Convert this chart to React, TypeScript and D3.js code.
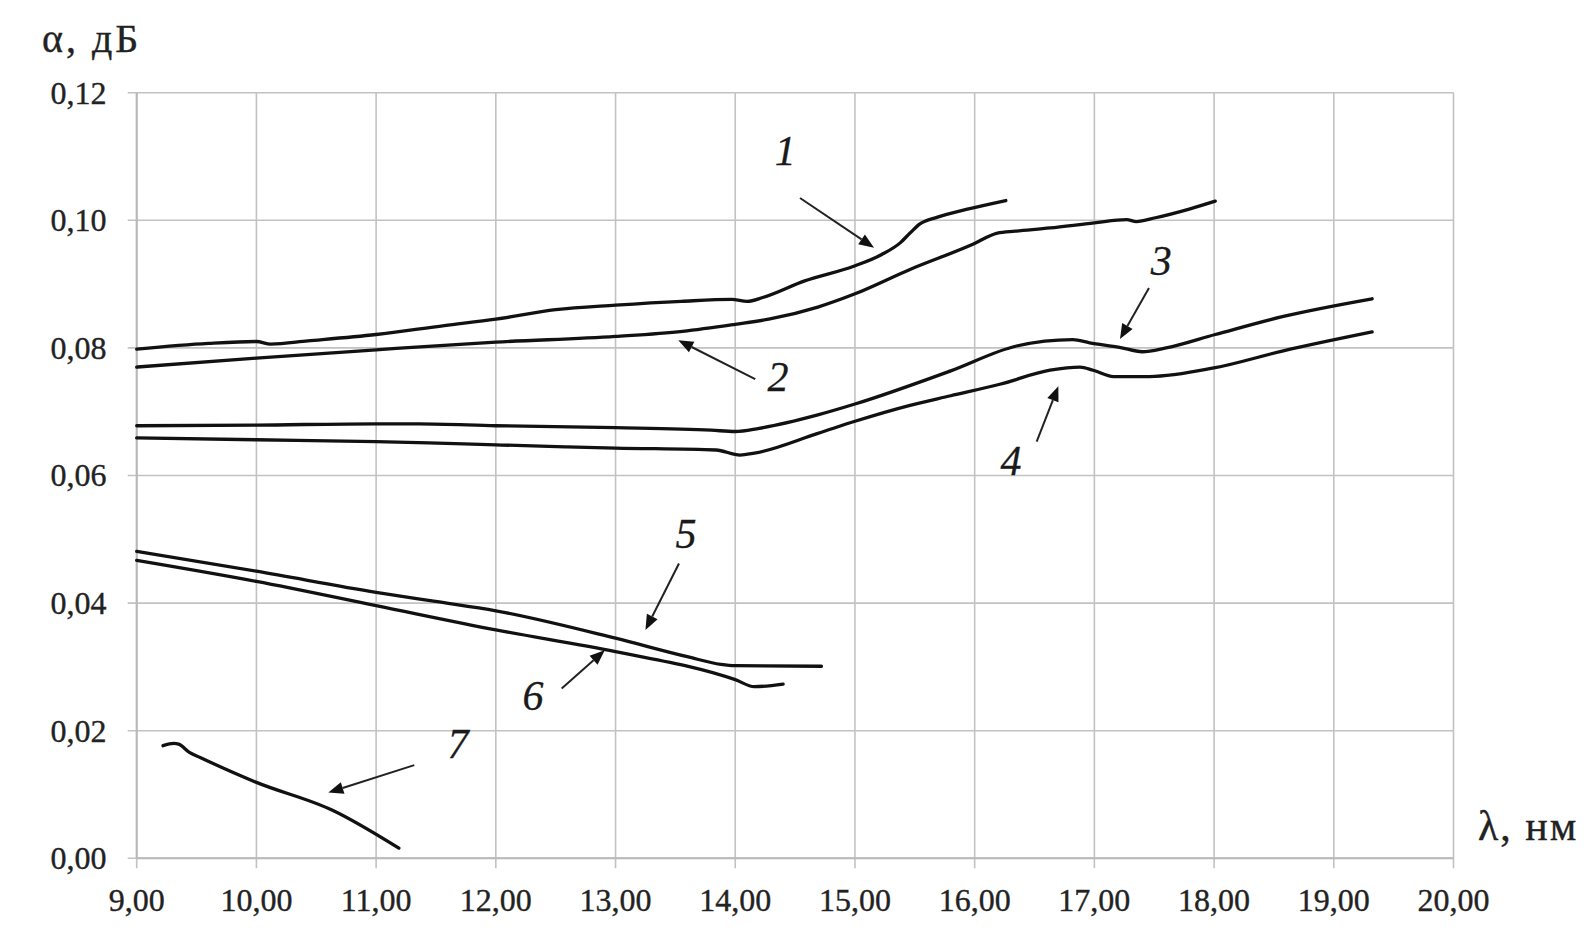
import React from "react";
import * as d3 from "d3";

type Pt = [number, number];

const xTicks = [9, 10, 11, 12, 13, 14, 15, 16, 17, 18, 19, 20];
const yTicks = [0, 0.02, 0.04, 0.06, 0.08, 0.1, 0.12];

const curve1: Pt[] = [[9.0,0.0798],[9.6,0.0807],[10.0,0.0810],[10.12,0.0806],[10.43,0.0811],[11.0,0.0821],[11.57,0.0835],[12.0,0.0845],[12.5,0.0860],[13.0,0.0867],[13.55,0.0873],[13.97,0.0876],[14.1,0.0873],[14.23,0.0879],[14.58,0.0905],[14.99,0.0928],[15.22,0.0946],[15.38,0.0965],[15.46,0.0980],[15.54,0.0994],[15.69,0.1005],[15.93,0.1017],[16.26,0.1031]];
const curve2: Pt[] = [[9.0,0.0770],[10.0,0.0784],[11.0,0.0797],[12.0,0.0809],[13.0,0.0818],[13.56,0.0826],[14.0,0.0837],[14.28,0.0845],[14.69,0.0864],[14.99,0.0884],[15.46,0.0923],[15.98,0.0962],[16.19,0.0980],[16.34,0.0983],[16.63,0.0988],[17.0,0.0996],[17.27,0.1001],[17.35,0.0998],[17.51,0.1004],[17.8,0.1018],[18.01,0.1030]];
const curve3: Pt[] = [[9,0.0678],[10,0.0679],[11,0.0681],[11.36,0.0681],[12,0.0678],[13,0.0675],[13.8,0.0671],[14.0,0.0669],[14.2,0.0674],[14.69,0.0695],[15.0,0.0712],[15.8,0.0764],[16.35,0.0803],[16.82,0.0813],[16.96,0.0808],[17.21,0.0801],[17.4,0.0794],[17.6,0.0800],[18.01,0.0821],[18.57,0.0849],[19.32,0.0877]];
const curve4: Pt[] = [[9,0.0659],[10,0.0656],[11,0.0653],[11.44,0.0651],[12,0.0648],[12.58,0.0645],[13,0.0643],[13.84,0.0640],[14.04,0.0632],[14.16,0.0635],[14.69,0.0666],[15.0,0.0685],[15.46,0.0710],[15.8,0.0725],[16.21,0.0743],[16.63,0.0765],[16.88,0.0770],[16.99,0.0765],[17.16,0.0755],[17.46,0.0755],[18.01,0.0769],[18.57,0.0795],[19.32,0.0825]];
const curve5: Pt[] = [[9.0,0.0481],[10,0.0450],[11,0.0417],[11.48,0.0403],[12,0.0388],[13,0.0345],[13.6,0.0316],[13.88,0.0304],[14.0,0.0302],[14.72,0.0301]];
const curve6: Pt[] = [[9,0.0467],[10,0.0434],[11,0.0396],[12,0.0358],[13,0.0324],[14,0.0280],[14.16,0.0269],[14.4,0.0273]];
const curve7: Pt[] = [[9.22,0.01765],[9.31,0.0180],[9.35,0.0179],[9.44,0.0166],[9.53,0.0158],[10,0.0119],[10.64,0.0075],[11.19,0.0016]];

const curves = [curve1, curve2, curve3, curve4, curve5, curve6, curve7];

// annotation labels: [text, lambda, alpha (baseline)]
const labels: [string, number, number][] = [
  ["1", 14.417, 0.1087],
  ["2", 14.357, 0.0732],
  ["3", 17.558, 0.0914],
  ["4", 16.304, 0.0601],
  ["5", 13.589, 0.0486],
  ["6", 12.311, 0.0233],
  ["7", 11.683, 0.0157],
];
// arrows: from [lambda, alpha] to tip [lambda, alpha]
const arrows: [Pt, Pt][] = [
  [[14.541, 0.1035], [15.159, 0.0957]],
  [[14.167, 0.0751], [13.524, 0.0812]],
  [[17.456, 0.0894], [17.214, 0.0814]],
  [[16.518, 0.0653], [16.699, 0.0740]],
  [[13.530, 0.0462], [13.250, 0.0358]],
  [[12.550, 0.0266], [12.910, 0.0326]],
  [[11.319, 0.0146], [10.601, 0.0103]],
];

const fmt = (v: number, d: number) => v.toFixed(d).replace(".", ",");

export default function App() {
  const W = 1596, H = 944;
  const x = d3.scaleLinear().domain([9, 20]).range([136.7, 1453.5]);
  const y = d3.scaleLinear().domain([0, 0.12]).range([858.3, 92.7]);
  const line = d3.line<Pt>().x(d => x(d[0])).y(d => y(d[1])).curve(d3.curveMonotoneX);
  const grid = "#c2c2c2";
  const font = "'Liberation Serif', 'Times New Roman', serif";
  const textCol = "#222";

  return (
    <svg width={W} height={H} style={{ position: "absolute", left: 0, top: 0, background: "#fff" }} fontFamily={font}>
      <rect width={W} height={H} fill="#fff" />
      {yTicks.map(t => (
        <g key={"y" + t}>
          <line x1={x(9) - 9} x2={x(20)} y1={y(t)} y2={y(t)} stroke={grid} strokeWidth={1.6} />
          <text x={106.5} y={y(t)} dy="0.34em" textAnchor="end" fontSize={32} fill={textCol} stroke={textCol} strokeWidth={0.35}>{fmt(t, 2)}</text>
        </g>
      ))}
      {xTicks.map(t => (
        <g key={"x" + t}>
          <line x1={x(t)} x2={x(t)} y1={y(0.12)} y2={y(0) + 10} stroke={grid} strokeWidth={1.6} />
          <text x={x(t)} y={911} textAnchor="middle" fontSize={32} fill={textCol} stroke={textCol} strokeWidth={0.35}>{fmt(t, 2)}</text>
        </g>
      ))}
      <line x1={x(9)} x2={x(20)} y1={y(0)} y2={y(0)} stroke="#b8b8b8" strokeWidth={2} />
      <line x1={x(9)} x2={x(9)} y1={y(0)} y2={y(0.12)} stroke="#b8b8b8" strokeWidth={2} />

      {curves.map((c, i) => (
        <path key={"c" + i} d={line(c) || ""} fill="none" stroke="#111" strokeWidth={3.3} strokeLinejoin="round" strokeLinecap="round" />
      ))}

      {arrows.map(([from, to], i) => {
        const x1 = x(from[0]), y1 = y(from[1]), x2 = x(to[0]), y2 = y(to[1]);
        const ang = Math.atan2(y2 - y1, x2 - x1);
        const L = 15, Wd = 6;
        const bx = x2 - L * Math.cos(ang), by = y2 - L * Math.sin(ang);
        const px = -Math.sin(ang) * Wd, py = Math.cos(ang) * Wd;
        return (
          <g key={"a" + i}>
            <line x1={x1} y1={y1} x2={bx} y2={by} stroke="#222" strokeWidth={2} />
            <polygon points={`${x2},${y2} ${bx + px},${by + py} ${bx - px},${by - py}`} fill="#111" />
          </g>
        );
      })}

      {labels.map(([t, lx, ly]) => (
        <text key={"l" + t} x={x(lx)} y={y(ly)} textAnchor="middle" fontSize={42} fontStyle="italic" fill="#1a1a1a" stroke="#1a1a1a" strokeWidth={0.3}>{t}</text>
      ))}

      <text x={42} y={51.5} fontSize={40} letterSpacing={3} fill={textCol} stroke={textCol} strokeWidth={0.35}>α, дБ</text>
      <text x={1478} y={840} fontSize={42} letterSpacing={2} fill={textCol} stroke={textCol} strokeWidth={0.35}>λ, нм</text>
    </svg>
  );
}
